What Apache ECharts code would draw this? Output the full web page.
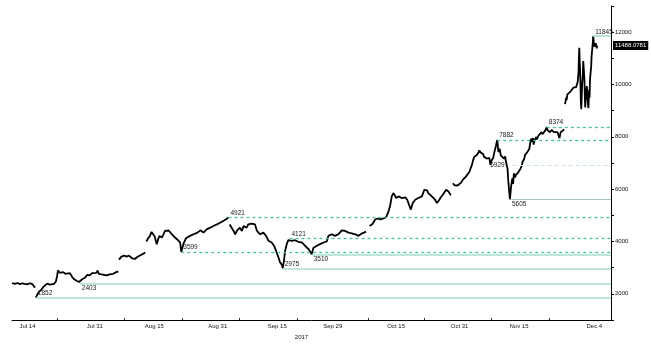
<!DOCTYPE html>
<html>
<head>
<meta charset="utf-8">
<title>BTC 2017</title>
<script src="https://cdn.jsdelivr.net/npm/echarts@6/dist/echarts.min.js"></script>
<style>
  html, body { margin: 0; padding: 0; background: #fff; }
  #chart { width: 651px; height: 345px; }
</style>
</head>
<body>
<div id="chart"></div>
<script>
// ---- data -------------------------------------------------------------
// Time is counted in days since 14 Jul 2017; a null price is a break in the feed.
const startDate = '2017-07-14';

const days = [
  -3.9, -3.2, -2.5, -1.9, -1.3, -0.7, 0, 0.6, 1.2, 1.7, 1.9, 2.0,
  2.1, 2.7, 3.4, 4.0, 4.4, 5.0, 5.6, 6.1, 6.7, 7.2, 7.5, 7.7, 8.2, 8.6, 9.0, 9.6, 10.1, 10.7,
  11.3, 11.8, 12.4, 13.0, 13.2, 13.8, 14.5, 15.1, 15.7, 16.3, 16.8, 17.4, 17.7, 18.0, 18.7,
  19.3, 19.9, 20.8, 21.6, 22.4, 22.9, 23.0,
  23.1, 23.7, 24.4, 25.0, 25.6, 26.4, 27.1, 27.7, 28.6, 29.4, 29.7, 29.85,
  30.0, 30.4, 30.9, 31.3, 31.7, 32.1, 32.6, 33.0, 33.3, 33.9, 34.4, 34.7, 35.2, 35.6, 36.0,
  36.8, 37.7, 38.1, 38.5, 38.8, 39.3, 40.0, 40.5, 41.0, 41.9, 42.3, 42.9, 43.6, 44.4, 45.2,
  46.1, 46.9, 47.3, 47.8, 48.6, 49.1, 49.6, 50.3, 50.7, 50.85,
  51.0, 51.5, 52.0, 52.4, 52.6, 52.8, 53.2, 53.6, 54.1, 54.5, 54.9, 55.3, 55.7, 56.2, 56.6,
  57.0, 57.4, 57.9, 58.3, 58.7, 59.1, 59.5, 60.0, 60.2, 60.8, 61.2, 61.6, 62.2, 62.7, 63.3,
  63.7, 64.2, 64.4, 64.7, 65.0, 65.4, 65.8, 66.1, 66.7, 67.1, 67.5, 67.9, 68.3, 68.8, 69.2,
  69.6, 70.0, 70.5, 70.9, 71.3, 71.7, 72.1, 72.6, 73.0, 73.4, 73.8, 74.2, 74.7, 75.1, 75.5,
  75.9, 76.3, 76.8, 77.2, 77.6, 78.0, 78.4, 78.9, 79.3, 79.7, 80.1, 81.0, 81.8, 82.7, 83.5,
  84.3, 84.9, 85.4, 85.8,
  86.3, 86.7, 87.1, 87.7, 88.3, 88.6, 89.0, 89.4, 89.8, 90.5, 91.1, 91.5, 91.9, 92.3, 92.7,
  93.0, 93.6, 94.0, 94.4, 94.8, 95.3, 95.8, 96.3, 96.7, 97.2, 97.8, 98.6, 99.0, 99.5, 100.1,
  100.6, 100.8, 101.1, 101.6, 102.0, 102.4, 102.8, 103.3, 103.6, 103.9, 104.3, 104.8, 105.2,
  105.6, 106.2, 106.8, 107.0,
  107.3, 107.7, 108.1, 108.5, 109.0, 109.4, 109.8, 110.2, 110.6, 111.1, 111.5, 111.8, 112.1,
  112.4, 112.7, 113.0, 113.3, 113.7, 114.0, 114.3, 114.6, 114.9, 115.2, 115.5, 115.9, 116.2,
  116.5, 116.8, 117.1, 117.5, 117.7, 118.0, 118.2, 118.5, 118.8, 119.1, 119.4, 119.9, 120.2,
  120.5, 120.7, 121.1, 121.3, 121.6, 121.7, 122.0, 122.3, 122.5, 122.7, 123.0, 123.2, 123.6,
  123.8, 124.1, 124.4, 124.7, 124.9, 125.3, 125.5, 125.8, 126.1, 126.3, 126.6, 126.8, 127.0,
  127.2, 127.5, 127.7, 127.9, 128.0, 128.3, 128.5, 128.9, 129.0, 129.3, 129.7, 129.9, 130.1,
  130.3, 130.6, 130.8, 131.0, 131.2, 131.4, 131.6, 131.8, 132.2, 132.5, 132.8, 133.1, 133.3,
  133.7, 134.0, 134.2, 134.5, 134.8, 135.0, 135.4, 135.5,
  135.6, 135.9, 136.0, 136.2, 136.4, 136.7, 137.1, 137.4, 137.7, 138.0, 138.1, 138.4, 138.6,
  138.8, 139.0, 139.1, 139.2, 139.3, 139.4, 139.5, 139.6, 139.7, 139.9, 140.1, 140.2, 140.5,
  140.6, 140.7, 140.9, 141.1, 141.3, 141.5, 141.7, 141.8, 141.9, 142.2, 142.3, 142.6, 142.7,
  143.0, 143.2, 143.4, 143.6, 143.7
];

const prices = [
  2415, 2377, 2415, 2366, 2403, 2377, 2366, 2403, 2377, 2328, 2238, null,
  1852, 2038, 2140, 2264, 2328, 2389, 2351, 2415, 2377, 2479, 2705, 2894, 2804, 2766, 2830, 2766, 2804, 2792,
  2641, 2555, 2502, 2453, 2403, 2555, 2615, 2728, 2705, 2792, 2728, 2804, 2894, 2766, 2743,
  2728, 2705, 2743, 2766, 2830, 2856, null,
  3309, 3423, 3460, 3423, 3460, 3358, 3332, 3408, 3483, 3547, 3585, null,
  4000, 4113, 4215, 4366, 4404, 4189, 3898, 4100, 4215, 4151, 4300, 4404, 4340, 4420, 4377,
  4215, 4087, 4050, 3962, 3599, 3898, 4125, 4080, 4215, 4276, 4230, 4340, 4426, 4340, 4464,
  4528, 4593, 4560, 4653, 4717, 4690, 4804, 4868, 4921, null,
  4653, 4528, 4404, 4276, 4215, 4404, 4464, 4528, 4404, 4593, 4593, 4528, 4653, 4653, 4679,
  4620, 4653, 4404, 4340, 4276, 4330, 4340, 4280, 4215, 4026, 4000, 3962, 3838, 3649, 3396,
  3208, 3100, 2975, 3272, 3649, 3898, 4050, 4121, 4026, 4080, 4049, 4000, 3989, 4020, 3962,
  3900, 3838, 3780, 3710, 3640, 3510, 3747, 3720, 3838, 3800, 3898, 3870, 3962, 3940, 4000,
  4215, 4215, 4276, 4250, 4215, 4250, 4276, 4330, 4426, 4390, 4404, 4340, 4313, 4276, 4215,
  4302, 4340, 4377, null,
  4593, 4560, 4679, 4842, 4880, 4830, 4842, 4900, 4880, 4932, 5158, 5385, 5725, 5849, 5760,
  5661, 5725, 5690, 5661, 5720, 5687, 5597, 5385, 5219, 5472, 5597, 5661, 5630, 5725, 5974,
  6038, 5950, 5849, 5790, 5725, 5680, 5597, 5472, 5530, 5597, 5700, 5786, 5880,
  5974, 5914, 5763, null,
  6227, 6150, 6102, 6140, 6163, 6250, 6351, 6420, 6479, 6550, 6668, 6800, 6918,
  7100, 7234, 7180, 7295, 7380, 7484, 7400, 7423, 7350, 7234, 7300, 7170, 7230,
  7196, 6929, 7106, 7200, 7359, 7550, 7672, 7882, 7423, 7550, 7295, 7359, 7170,
  7250, 7046, 6793, 6291, 5786, 5605, 6102, 6415, 6200, 6604, 6450, 6540, 6500,
  6642, 6600, 6793, 6900, 7046, 7150, 7295, 7350, 7423, 7480, 7548, 7750, 7925,
  7800, 7951, 7700, 7861, 7920, 7988, 7900, 8050, 7980, 8114, 8178, 8100, 8050,
  8150, 8239, 8300, 8374, 8250, 8239, 8300, 8178, 8260, 8239, 8180, 8114, 8230,
  8178, 8200, 7950, 8178, 8150, 8239, 8277, null,
  9250, 9499, 9400, 9623, 9560, 9687, 9748, 9720, 9876, 9850, 9936, 9900, 10000,
  10100, 10442, 11000, 11400, 10900, 10567, 10000, 9300, 9058, 9936, 10400, 10900, 10189,
  9500, 9121, 9700, 9936, 9434, 9100, 9812, 9500, 10189, 10692, 11069, 11572, 11845,
  11446, 11520, 11572, 11384, 11488.0781
];

// Support / resistance levels: value, day of the extreme, day the level line begins
const levelValues   = [1852, 2403, 2975, 3510, 3599, 4121, 4921, 5605, 6929, 7882, 8374, 11845];
const levelDays     = [2.1, 13.2, 64.4, 71.7, 38.8, 66.1, 50.7, 121.7, 116.8, 118.5, 131.0, 142.7];
const levelLineFrom = [2.1, 13.2, 64.4, 71.7, 38.8, 66.1, 50.7, 121.7, 122.4, 118.5, 131.0, 142.7];

// Axis
const xStartDay = -3.9;
const xEndDay = 147.2;
const tickLabelDates = ['2017-07-14', '2017-07-31', '2017-08-15', '2017-08-31', '2017-09-15',
                        '2017-09-29', '2017-10-15', '2017-10-31', '2017-11-15', '2017-12-04'];
const tickLabels = ['Jul 14', 'Jul 31', 'Aug 15', 'Aug 31', 'Sep 15',
                    'Sep 29', 'Oct 15', 'Oct 31', 'Nov 15', 'Dec 4'];
const minorTickDates = ['2017-07-21T12:00', '2017-08-07T12:00', '2017-08-22', '2017-09-05T12:00',
                        '2017-09-20', '2017-10-08', '2017-10-22', '2017-11-08', '2017-11-22T12:00'];
const yearLabel = '2017';

// ---- rendering --------------------------------------------------------
const DAY = 86400000;
const t0 = Date.parse(startDate + 'T00:00:00Z');
const dayOf = s => (Date.parse((s.length > 10 ? s : s + 'T00:00') + ':00Z') - t0) / DAY;

const labelDays = tickLabelDates.map(dayOf);
const minorDays = minorTickDates.map(dayOf);

const priceData = days.map((d, i) => [d, prices[i] === null ? '-' : prices[i]]);
const lastPrice = prices[prices.length - 1];

const FONT = 'Liberation Sans, Arial, sans-serif';

const looks = {
  support: { color: '#a9dfc8', width: 1.6, type: 'solid' },
  floor:   { color: '#9fcab9', width: 1.1, type: 'solid' },
  pivot:   { color: '#4cc393', width: 1.3, type: [3, 3] },
  faint:   { color: '#c6e6da', width: 1.1, type: [4, 3] }
};
const levelLook = {
  1852: ['support', 'top'], 2403: ['support', 'bottom'], 2975: ['support', 'top'],
  3510: ['support', 'bottom'], 3599: ['pivot', 'top'], 4121: ['pivot', 'top'],
  4921: ['pivot', 'top'], 5605: ['floor', 'bottom'], 6929: ['faint', 'left'],
  7882: ['pivot', 'top'], 8374: ['pivot', 'top'], 11845: ['support', 'top']
};

const levelLines = levelValues.map((v, i) => {
  const [kind, side] = levelLook[v];
  const lk = looks[kind];
  let label;
  if (side === 'left') {
    label = { position: 'start', distance: 8, padding: [9, 0, 0, 0] };
  } else {
    label = { position: side === 'top' ? 'insideStartTop' : 'insideStartBottom', distance: [2, 1] };
  }
  Object.assign(label, {
    show: true, formatter: String(v), color: '#1a1a1a', fontSize: 6.5, fontFamily: FONT
  });
  return [
    { coord: [levelLineFrom[i], v], lineStyle: { color: lk.color, width: lk.width, type: lk.type }, label },
    { coord: [xEndDay, v] }
  ];
});

const chart = echarts.init(document.getElementById('chart'), null, { renderer: 'canvas' });
chart.setOption({
  animation: false,
  backgroundColor: '#fff',
  grid: { left: 12, right: 40, top: 6, bottom: 22, containLabel: false },
  xAxis: {
    type: 'value',
    min: xStartDay,
    max: xEndDay,
    splitLine: { show: false },
    axisLine: { show: true, onZero: false, lineStyle: { color: '#000', width: 1 } },
    axisTick: { show: true, inside: true, length: 2, customValues: minorDays, lineStyle: { color: '#333' } },
    axisLabel: {
      customValues: labelDays,
      formatter: v => {
        const k = labelDays.findIndex(d => Math.abs(d - v) < 1e-6);
        return k >= 0 ? tickLabels[k] : '';
      },
      fontSize: 6, color: '#111', fontFamily: FONT, margin: 3
    },
    name: yearLabel,
    nameLocation: 'middle',
    nameGap: 14,
    nameTextStyle: { fontSize: 6, color: '#111', fontFamily: FONT, padding: [0, 20, 0, 0] }
  },
  yAxis: {
    type: 'value',
    position: 'right',
    min: 1000,
    max: 13000,
    interval: 1000,
    splitLine: { show: false },
    axisLine: { show: true, onZero: false, lineStyle: { color: '#000', width: 1 } },
    axisTick: { show: true, inside: false, length: 3, lineStyle: { color: '#000' } },
    axisLabel: {
      formatter: v => (v % 2000 === 0 ? String(v) : ''),
      fontSize: 6, color: '#111', fontFamily: FONT, margin: 4
    }
  },
  series: [
    {
      name: 'levels',
      type: 'line',
      data: [],
      z: 1,
      silent: true,
      markLine: { symbol: 'none', silent: true, animation: false, data: levelLines }
    },
    {
      name: 'XBT',
      type: 'line',
      data: priceData,
      z: 3,
      clip: false,
      showSymbol: false,
      connectNulls: false,
      lineStyle: { color: '#000', width: 1.8 },
      itemStyle: { color: '#000' },
      markLine: {
        symbol: 'none', silent: true, animation: false,
        data: [{
          yAxis: lastPrice,
          lineStyle: { color: 'rgba(0,0,0,0)', width: 0 },
          label: {
            show: true, position: 'end', distance: 2,
            formatter: lastPrice.toFixed(4),
            backgroundColor: '#000', color: '#fff', padding: [2, 2, 1, 2],
            fontSize: 6, fontFamily: FONT
          }
        }]
      }
    }
  ]
});
</script>
</body>
</html>
